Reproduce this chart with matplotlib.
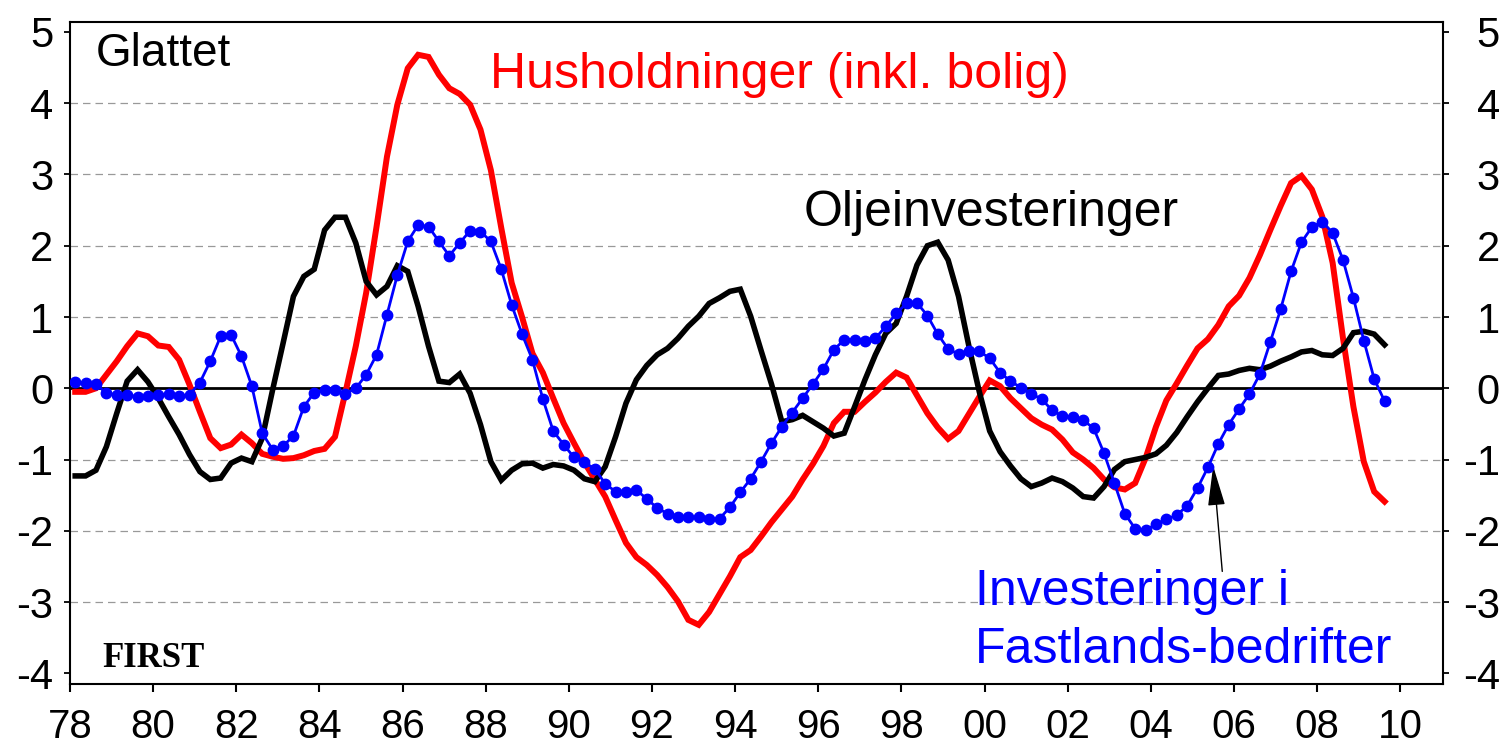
import numpy as np
import matplotlib.pyplot as plt
import matplotlib.transforms as mtrans

plt.rcParams['font.family'] = ['Liberation Sans', 'DejaVu Sans']
plt.rcParams['axes.unicode_minus'] = False

# kvartalsdata 1978K1 - 2009K3 (glattet)
start_year = 1978
husholdninger = [
    -0.05, -0.05, 0.00, 0.19, 0.38, 0.59, 0.77, 0.73, 0.60, 0.58, 0.40, 0.05, -0.33, -0.70, -0.84, -0.79,
    -0.65, -0.77, -0.92, -0.96, -0.99, -0.98, -0.94, -0.88, -0.85, -0.68, -0.06, 0.59, 1.34, 2.27, 3.25, 3.98,
    4.49, 4.68, 4.65, 4.40, 4.21, 4.13, 3.98, 3.63, 3.06, 2.25, 1.48, 1.00, 0.49, 0.22, -0.14, -0.49,
    -0.77, -1.04, -1.28, -1.52, -1.85, -2.17, -2.37, -2.48, -2.62, -2.79, -2.99, -3.25, -3.32, -3.14, -2.89, -2.64,
    -2.37, -2.27, -2.08, -1.88, -1.70, -1.52, -1.28, -1.06, -0.81, -0.49, -0.33, -0.33, -0.19, -0.06, 0.09, 0.22,
    0.15, -0.10, -0.35, -0.55, -0.71, -0.60, -0.36, -0.12, 0.11, 0.03, -0.14, -0.28, -0.42, -0.51, -0.58, -0.72,
    -0.90, -1.00, -1.12, -1.28, -1.39, -1.42, -1.33, -0.98, -0.54, -0.17, 0.07, 0.32, 0.56, 0.69, 0.89, 1.15,
    1.30, 1.55, 1.87, 2.22, 2.56, 2.88, 2.98, 2.79, 2.41, 1.76, 0.70, -0.26, -1.03, -1.45, -1.59,
]
olje = [
    -1.23, -1.23, -1.15, -0.82, -0.35, 0.10, 0.26, 0.09, -0.14, -0.40, -0.65, -0.93, -1.17, -1.28, -1.26, -1.05,
    -0.98, -1.03, -0.70, -0.02, 0.63, 1.29, 1.57, 1.67, 2.22, 2.40, 2.40, 2.04, 1.50, 1.31, 1.43, 1.72,
    1.64, 1.15, 0.59, 0.10, 0.08, 0.20, -0.07, -0.51, -1.03, -1.29, -1.15, -1.06, -1.05, -1.12, -1.07, -1.09,
    -1.15, -1.27, -1.31, -1.10, -0.68, -0.21, 0.12, 0.32, 0.47, 0.56, 0.70, 0.87, 1.01, 1.19, 1.27, 1.36,
    1.39, 1.01, 0.53, 0.06, -0.47, -0.44, -0.38, -0.47, -0.56, -0.67, -0.63, -0.26, 0.12, 0.47, 0.77, 0.91,
    1.29, 1.73, 2.00, 2.05, 1.80, 1.29, 0.59, -0.05, -0.60, -0.89, -1.09, -1.27, -1.38, -1.33, -1.26, -1.31,
    -1.40, -1.52, -1.54, -1.38, -1.14, -1.03, -1.00, -0.97, -0.92, -0.80, -0.62, -0.40, -0.19, 0.00, 0.18, 0.20,
    0.25, 0.28, 0.26, 0.31, 0.38, 0.44, 0.51, 0.53, 0.47, 0.46, 0.56, 0.78, 0.80, 0.76, 0.61,
]
fastland = [
    0.09, 0.07, 0.06, -0.07, -0.09, -0.09, -0.12, -0.11, -0.10, -0.08, -0.11, -0.09, 0.08, 0.38, 0.73, 0.75,
    0.45, 0.03, -0.63, -0.86, -0.81, -0.67, -0.26, -0.06, -0.03, -0.03, -0.08, 0.00, 0.19, 0.47, 1.03, 1.59,
    2.06, 2.29, 2.27, 2.06, 1.86, 2.04, 2.21, 2.20, 2.06, 1.67, 1.17, 0.76, 0.40, -0.15, -0.60, -0.79,
    -0.97, -1.04, -1.13, -1.34, -1.45, -1.46, -1.43, -1.55, -1.68, -1.76, -1.80, -1.81, -1.81, -1.84, -1.83, -1.67,
    -1.46, -1.27, -1.03, -0.77, -0.54, -0.34, -0.14, 0.06, 0.27, 0.54, 0.68, 0.68, 0.67, 0.70, 0.87, 1.05,
    1.19, 1.20, 1.02, 0.76, 0.55, 0.48, 0.52, 0.52, 0.42, 0.22, 0.10, 0.01, -0.08, -0.15, -0.31, -0.39,
    -0.41, -0.45, -0.56, -0.91, -1.33, -1.76, -1.97, -1.99, -1.91, -1.84, -1.78, -1.65, -1.40, -1.11, -0.78, -0.51,
    -0.29, -0.08, 0.20, 0.65, 1.11, 1.64, 2.05, 2.26, 2.34, 2.18, 1.80, 1.27, 0.67, 0.13, -0.18,
]

aar_ticks = list(range(1978, 2011, 2))
aar_labels = ['%02d' % (a % 100) for a in aar_ticks]
y_ticks = [-4, -3, -2, -1, 0, 1, 2, 3, 4, 5]

# kvartalene plasseres midt i kvartalet
kvartal = start_year + (np.arange(len(fastland)) + 0.5) / 4

fig = plt.figure(figsize=(15.08, 7.49), dpi=100)
ax = fig.add_axes([70/1508, 65/749, 1373/1508, 662/749])

for g in [-3, -2, -1, 1, 2, 3, 4]:
    ax.axhline(g, color='#999999', lw=0.9, ls=(0, (6, 4)), zorder=1)
ax.axhline(0, color='black', lw=2.0, zorder=2)

ax.plot(kvartal, husholdninger, color='#ff0000', lw=4.3, zorder=3, solid_joinstyle='miter')
ax.plot(kvartal, olje, color='black', lw=4.0, zorder=4, solid_joinstyle='miter')
ax.plot(kvartal, fastland, color='#0000ff', lw=2.0, marker='o', ms=7.5, zorder=5)

ax.set_xlim(1978, 2011.03)
ax.set_ylim(-4.15, 5.14)
ax.set_xticks(aar_ticks)
ax.set_xticklabels(aar_labels)
ax.set_yticks(y_ticks)
ax.set_yticklabels([str(v) for v in y_ticks])

ax.tick_params(axis='x', direction='out', length=6, width=1.5, labelsize=29, pad=11)
ax.tick_params(axis='y', direction='out', length=4, width=1.3, labelsize=30, pad=8,
               left=True, right=True, labelleft=True, labelright=True)
for sp in ax.spines.values():
    sp.set_linewidth(1.5)

# høyre etiketter høyrejusteres ved x ~ 1500 px
off = mtrans.ScaledTranslation(29/72, 0, fig.dpi_scale_trans)
for t in ax.yaxis.get_major_ticks():
    t.label2.set_horizontalalignment('right')
    t.label2.set_transform(t.label2.get_transform() + off)

ax.text(1978.63, 4.52, 'Glattet', fontsize=33, color='black')
ax.text(1988.1, 4.21, 'Husholdninger (inkl. bolig)', fontsize=36, color='#ff0000')
ax.text(1995.64, 2.28, 'Oljeinvesteringer', fontsize=36, color='black')
ax.text(1999.78, -3.04, 'Investeringer i', fontsize=36, color='#0000ff')
ax.text(1999.78, -3.85, 'Fastlands-bedrifter', fontsize=36, color='#0000ff')
ax.text(1978.77, -3.91, 'FIRST', fontsize=25, fontweight='bold',
        family=['Liberation Serif', 'DejaVu Serif'])

ax.annotate('', xy=(2005.5, -1.09), xytext=(2005.72, -2.57),
            arrowprops=dict(arrowstyle='-|>,head_length=1.4,head_width=0.3',
                            mutation_scale=18, color='black', lw=1.0, shrinkA=0, shrinkB=0))

fig.savefig('out.png', dpi=100)
